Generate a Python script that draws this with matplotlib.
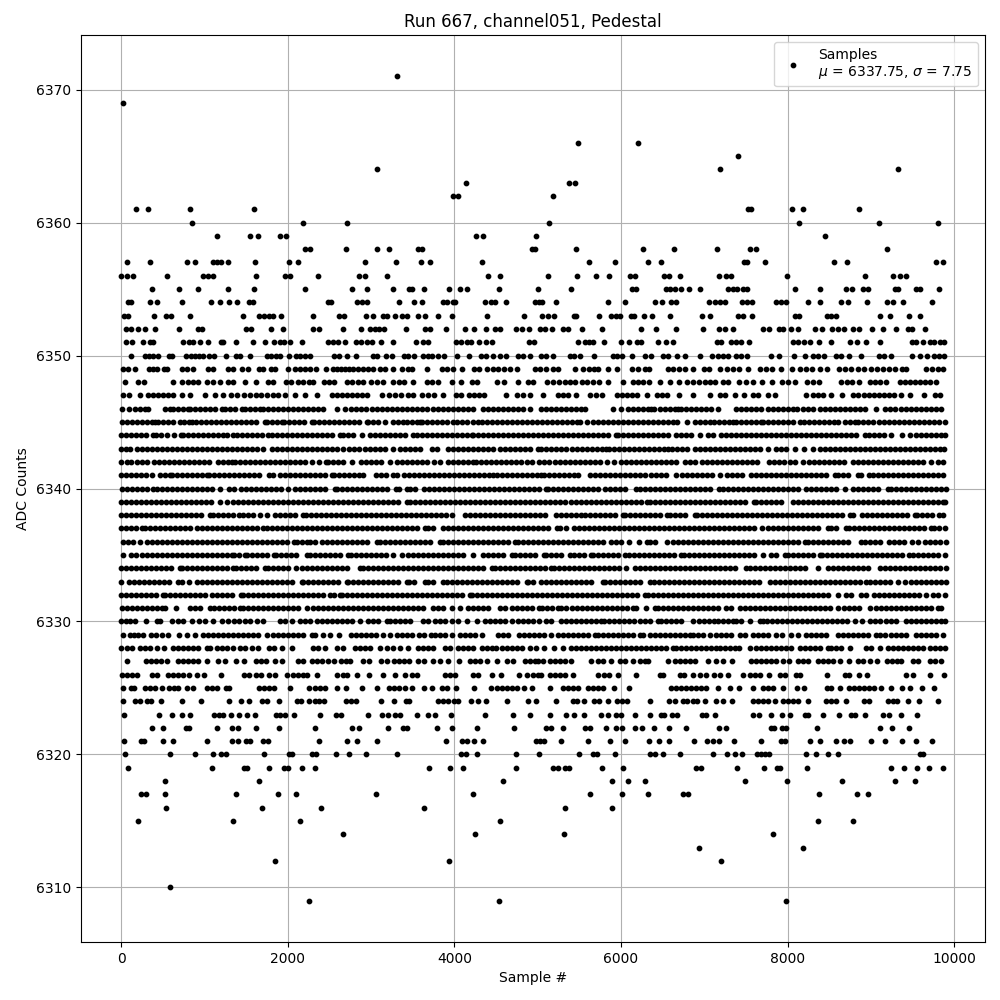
import matplotlib
matplotlib.use('Agg')
import matplotlib.pyplot as plt

# sample numbers, one list per ADC level
adc_6371 = [3312]
adc_6369 = [24]
adc_6366 = [5484, 6204]
adc_6365 = [7404]
adc_6364 = [3072, 7188, 9324]
adc_6363 = [4140, 5376, 5448]
adc_6362 = [3984, 4044, 5184]
adc_6361 = [176, 328, 832, 1600, 7524, 7560, 8052, 8184, 8856]
adc_6360 = [856, 2188, 2716, 5136, 8136, 9096, 9808]
adc_6359 = [1156, 1552, 1648, 1912, 1984, 4264, 4348, 4984, 8448]
adc_6358 = [2208, 2268, 2704, 3076, 3220, 3568, 3616, 4928, 4968, 5460, 6264, 6636, 7152, 7548, 7624, 9192]
adc_6357 = [76, 352, 796, 892, 1108, 1156, 1196, 1288, 1612, 2020, 2128, 2932, 3304, 3596, 3712, 4336, 5616, 5928, 6324, 6480, 7472, 7512, 7728, 8556, 8712, 9780, 9868]
adc_6356 = [4, 76, 148, 556, 988, 1048, 1108, 1624, 1964, 2028, 2368, 2860, 2928, 3196, 4408, 4552, 5124, 5472, 5700, 5856, 6108, 6168, 6516, 6576, 6708, 7176, 7260, 7320, 7992, 8928, 9264, 9348, 9420]
adc_6355 = [376, 700, 928, 1288, 1600, 2212, 2776, 2956, 3268, 3460, 3496, 3640, 3932, 4072, 4156, 4540, 5004, 5400, 6128, 6176, 6540, 6584, 6648, 6720, 6816, 6948, 7284, 7344, 7392, 7464, 7512, 8084, 8388, 8700, 8772, 8904, 8964, 9288, 9328, 9544, 9584, 9816]
adc_6354 = [88, 120, 352, 436, 736, 1084, 1192, 1300, 1396, 1540, 1588, 2488, 2516, 2836, 2896, 2956, 3340, 3520, 3616, 3868, 3916, 3988, 4012, 4372, 4436, 4484, 4624, 4968, 5016, 5052, 5220, 5844, 6048, 6408, 6492, 6600, 6660, 7056, 7128, 7188, 7244, 7452, 7512, 7572, 7860, 7920, 7984, 8244, 8388, 8640, 8724, 8952, 9192, 9264, 9384, 9732]
adc_6353 = [36, 88, 400, 544, 604, 832, 1468, 1660, 1720, 1780, 1828, 1924, 2308, 2620, 2676, 2944, 3028, 3140, 3188, 3292, 3376, 3436, 3568, 3652, 3808, 3976, 4396, 4840, 5052, 5124, 5196, 5436, 5464, 5736, 5880, 5940, 5988, 6120, 6156, 6276, 6372, 6588, 6972, 7068, 7404, 7464, 7572, 8088, 8136, 8472, 8520, 8580, 9108, 9228, 9456, 9584]
adc_6352 = [64, 124, 208, 292, 412, 700, 928, 976, 1504, 1556, 1804, 1948, 2308, 2380, 2668, 2884, 2992, 3052, 3100, 3160, 3424, 3652, 3712, 3904, 4132, 4240, 4384, 4492, 4552, 4744, 4816, 4900, 5024, 5084, 5168, 5304, 5364, 5532, 5772, 6240, 6424, 6660, 6984, 7180, 7248, 7344, 7704, 7776, 7896, 7944, 8040, 8124, 8328, 8412, 8532, 8604, 8676, 8784, 8856, 9012, 9144, 9300, 9444, 9492, 9648]
adc_6351 = [64, 136, 268, 352, 388, 748, 820, 868, 952, 1048, 1204, 1228, 1384, 1588, 1732, 1840, 1912, 1960, 2032, 2176, 2488, 2548, 2608, 2692, 2824, 2884, 2956, 3016, 3124, 3268, 3544, 3628, 3688, 4024, 4084, 4156, 4204, 4300, 4384, 4456, 4900, 4956, 5484, 5568, 5616, 5664, 5796, 6000, 6096, 6192, 6240, 6444, 6540, 6624, 7152, 7200, 7320, 7380, 7440, 7536, 8064, 8124, 8196, 8268, 8376, 8520, 8748, 8832, 8940, 9108, 9492, 9540, 9624, 9708, 9756, 9828, 9876]
adc_6350 = [124, 292, 340, 388, 448, 580, 616, 784, 844, 892, 940, 988, 1060, 1120, 1264, 1384, 1432, 1552, 1756, 1804, 1864, 1912, 2020, 2104, 2152, 2212, 2272, 2560, 2620, 2716, 2824, 3028, 3076, 3184, 3256, 3400, 3448, 3520, 3628, 3688, 3736, 3808, 3880, 4036, 4180, 4324, 4384, 4468, 4552, 4624, 4768, 4828, 4904, 5044, 5104, 5184, 5388, 5436, 5508, 5676, 5904, 5952, 6012, 6132, 6288, 6360, 6504, 6564, 6672, 6768, 6948, 7092, 7164, 7224, 7284, 7380, 7440, 7512, 7800, 7896, 8076, 8208, 8304, 8364, 8436, 8580, 8640, 8736, 8880, 9096, 9156, 9240, 9492, 9588, 9672, 9756, 9816, 9876]
adc_6349 = [28, 88, 168, 340, 388, 436, 520, 556, 728, 788, 868, 1048, 1108, 1288, 1348, 1456, 1528, 1660, 1708, 1804, 1852, 2008, 2092, 2148, 2208, 2268, 2336, 2464, 2548, 2596, 2644, 2692, 2740, 2788, 2848, 2908, 2968, 3028, 3108, 3168, 3268, 3368, 3448, 3496, 3668, 3848, 3908, 3988, 4096, 4240, 4300, 4396, 4468, 4528, 4600, 4668, 4748, 4964, 5024, 5096, 5184, 5244, 5448, 5544, 5616, 5676, 5724, 5844, 5952, 6132, 6204, 6284, 6336, 6564, 6624, 6696, 6768, 6864, 6996, 7056, 7188, 7272, 7344, 7416, 7524, 7668, 7740, 7812, 7920, 8052, 8148, 8220, 8292, 8388, 8472, 8616, 8688, 8760, 8844, 8916, 9000, 9072, 9144, 9216, 9288, 9372, 9420, 9660, 9732, 9804, 9864]
adc_6348 = [52, 208, 280, 628, 736, 808, 868, 928, 1036, 1108, 1188, 1288, 1348, 1492, 1624, 1768, 1828, 1984, 2044, 2128, 2188, 2260, 2308, 2440, 2500, 2560, 2716, 2776, 2848, 2908, 3004, 3076, 3148, 3268, 3340, 3400, 3508, 3676, 3736, 3808, 3976, 4084, 4216, 4276, 4508, 4600, 4768, 4888, 4944, 5112, 5184, 5256, 5328, 5388, 5448, 5532, 5592, 5664, 5736, 5844, 6024, 6144, 6204, 6264, 6336, 6468, 6588, 6696, 6792, 6864, 6936, 7008, 7068, 7128, 7224, 7284, 7416, 7500, 7584, 7692, 7812, 7932, 8004, 8088, 8232, 8304, 8376, 8640, 8712, 8772, 8856, 8988, 9048, 9108, 9180, 9348, 9408, 9468, 9528, 9588, 9648, 9708, 9780]
adc_6347 = [28, 100, 232, 328, 388, 448, 508, 568, 628, 728, 828, 1008, 1132, 1228, 1324, 1396, 1480, 1548, 1620, 1684, 1756, 1828, 1888, 1968, 2088, 2208, 2348, 2536, 2596, 2656, 2716, 2776, 2836, 2896, 2956, 3136, 3220, 3292, 3364, 3448, 3500, 3616, 3688, 3760, 3868, 4024, 4084, 4180, 4240, 4300, 4360, 4624, 4756, 4828, 4904, 5064, 5244, 5304, 5364, 5460, 5628, 5700, 5772, 5952, 6012, 6072, 6132, 6192, 6312, 6432, 6492, 6552, 6696, 6864, 7068, 7188, 7248, 7368, 7476, 7584, 7644, 7764, 7848, 8220, 8304, 8364, 8424, 8516, 8656, 8784, 8844, 8916, 8976, 9036, 9096, 9156, 9216, 9276, 9360, 9468, 9636, 9768, 9828]
adc_6346 = [8, 100, 168, 228, 288, 328, 528, 588, 628, 688, 748, 808, 828, 888, 948, 1008, 1068, 1128, 1208, 1248, 1308, 1368, 1448, 1488, 1548, 1608, 1668, 1708, 1768, 1828, 1888, 1948, 2008, 2068, 2128, 2188, 2248, 2308, 2368, 2428, 2588, 2688, 2756, 2816, 2876, 2936, 3008, 3068, 3128, 3196, 3256, 3316, 3376, 3436, 3496, 3556, 3616, 3676, 3740, 3808, 3868, 3928, 3988, 4048, 4108, 4168, 4228, 4348, 4408, 4468, 4528, 4588, 4648, 4708, 4768, 4828, 4908, 5044, 5104, 5164, 5224, 5284, 5344, 5404, 5464, 5524, 5564, 5904, 6004, 6084, 6144, 6204, 6264, 6324, 6364, 6392, 6464, 6524, 6584, 6644, 6684, 6724, 6784, 6844, 6904, 6964, 7024, 7084, 7164, 7384, 7444, 7504, 7564, 7624, 7684, 7764, 7824, 7884, 7944, 8004, 8064, 8112, 8184, 8244, 8304, 8384, 8444, 8504, 8564, 8624, 8684, 8744, 8804, 8864, 8924, 9064, 9164, 9224, 9284, 9364, 9424, 9484, 9544, 9604, 9664, 9724, 9784, 9844]
adc_6345 = [8, 68, 128, 188, 248, 308, 368, 408, 448, 508, 568, 628, 708, 756, 816, 848, 900, 960, 1020, 1080, 1140, 1200, 1260, 1320, 1380, 1440, 1500, 1560, 1620, 1728, 1756, 1816, 1876, 1928, 1956, 2016, 2076, 2136, 2196, 2288, 2316, 2376, 2436, 2496, 2556, 2616, 2676, 2736, 2796, 2856, 2948, 2968, 3028, 3088, 3168, 3260, 3320, 3380, 3436, 3488, 3548, 3588, 3616, 3676, 3736, 3796, 3856, 3916, 3988, 4028, 4088, 4148, 4228, 4288, 4328, 4388, 4448, 4508, 4568, 4628, 4688, 4748, 4808, 4868, 4928, 4988, 5048, 5108, 5168, 5228, 5296, 5352, 5412, 5476, 5512, 5592, 5664, 5724, 5784, 5844, 5904, 5964, 6024, 6084, 6144, 6204, 6264, 6324, 6384, 6444, 6504, 6564, 6624, 6672, 6792, 6892, 6952, 7012, 7072, 7116, 7176, 7236, 7296, 7344, 7384, 7444, 7504, 7564, 7624, 7684, 7704, 7764, 7824, 7884, 7944, 8004, 8064, 8152, 8192, 8252, 8312, 8372, 8432, 8492, 8552, 8604, 8684, 8744, 8804, 8844, 8904, 8964, 9024, 9096, 9156, 9216, 9276, 9336, 9396, 9456, 9516, 9576, 9636, 9696, 9756, 9816, 9884]
adc_6344 = [0, 60, 120, 180, 240, 300, 388, 416, 476, 548, 640, 720, 748, 808, 868, 928, 988, 1048, 1108, 1168, 1228, 1276, 1348, 1396, 1456, 1516, 1576, 1636, 1696, 1768, 1808, 1868, 1928, 1988, 2048, 2108, 2168, 2228, 2288, 2348, 2408, 2468, 2528, 2628, 2660, 2720, 2780, 2888, 2988, 3048, 3108, 3168, 3228, 3288, 3348, 3408, 3508, 3548, 3608, 3668, 3728, 3788, 3848, 3908, 3968, 4028, 4088, 4148, 4208, 4228, 4288, 4348, 4408, 4468, 4528, 4588, 4648, 4708, 4768, 4828, 4888, 4948, 5008, 5068, 5128, 5188, 5248, 5308, 5368, 5428, 5488, 5548, 5608, 5668, 5728, 5788, 5848, 5936, 5964, 6024, 6084, 6144, 6204, 6264, 6324, 6384, 6444, 6504, 6564, 6664, 6724, 6784, 6844, 6952, 7044, 7104, 7204, 7264, 7324, 7384, 7444, 7504, 7564, 7624, 7684, 7744, 7804, 7864, 7924, 7984, 8044, 8104, 8164, 8224, 8284, 8344, 8404, 8464, 8524, 8584, 8644, 8704, 8764, 8824, 8924, 8976, 9036, 9096, 9156, 9244, 9372, 9464, 9536, 9596, 9656, 9716, 9776, 9836, 9884]
adc_6343 = [0, 60, 108, 188, 248, 308, 368, 428, 488, 548, 608, 668, 728, 788, 848, 908, 968, 1028, 1088, 1148, 1208, 1268, 1328, 1388, 1448, 1508, 1568, 1628, 1708, 1816, 1876, 1936, 1996, 2056, 2116, 2176, 2236, 2296, 2356, 2416, 2476, 2536, 2588, 2668, 2740, 2800, 2860, 2928, 2988, 3048, 3108, 3168, 3268, 3348, 3408, 3468, 3528, 3588, 3728, 3796, 3928, 3988, 4048, 4108, 4168, 4228, 4288, 4348, 4408, 4468, 4548, 4608, 4668, 4728, 4788, 4848, 4904, 5004, 5044, 5104, 5164, 5224, 5284, 5344, 5412, 5472, 5532, 5592, 5652, 5712, 5772, 5816, 5856, 5916, 5976, 6036, 6096, 6156, 6216, 6276, 6336, 6396, 6456, 6516, 6564, 6612, 6672, 6732, 6792, 6892, 6944, 7004, 7064, 7124, 7184, 7244, 7304, 7364, 7424, 7484, 7544, 7604, 7664, 7764, 7864, 7924, 7984, 8084, 8196, 8304, 8392, 8452, 8512, 8572, 8632, 8692, 8752, 8812, 8872, 8932, 8992, 9052, 9112, 9172, 9232, 9292, 9352, 9412, 9472, 9532, 9592, 9652, 9712, 9772, 9832, 9880]
adc_6342 = [0, 68, 116, 188, 248, 316, 396, 456, 516, 576, 636, 696, 756, 816, 876, 936, 996, 1056, 1160, 1228, 1288, 1328, 1368, 1428, 1488, 1548, 1608, 1668, 1728, 1788, 1848, 1908, 1968, 2028, 2088, 2148, 2208, 2288, 2380, 2460, 2488, 2548, 2608, 2668, 2768, 2876, 2936, 2996, 3056, 3116, 3228, 3308, 3368, 3428, 3488, 3548, 3608, 3668, 3756, 3828, 3928, 3988, 4048, 4108, 4168, 4228, 4260, 4320, 4380, 4440, 4500, 4560, 4620, 4680, 4740, 4800, 4868, 4928, 5020, 5080, 5140, 5204, 5272, 5332, 5392, 5452, 5512, 5572, 5632, 5692, 5752, 5832, 5912, 5996, 6064, 6124, 6184, 6244, 6304, 6364, 6424, 6484, 6544, 6604, 6664, 6764, 6824, 6884, 6976, 7032, 7092, 7152, 7212, 7272, 7332, 7392, 7452, 7512, 7572, 7636, 7776, 7836, 7896, 7956, 8024, 8084, 8184, 8256, 8316, 8376, 8436, 8496, 8556, 8616, 8676, 8784, 8844, 8904, 8964, 9024, 9084, 9144, 9204, 9264, 9324, 9384, 9444, 9504, 9564, 9624, 9724, 9804, 9864]
adc_6341 = [0, 60, 120, 180, 240, 300, 368, 468, 528, 588, 616, 676, 736, 796, 856, 916, 976, 1028, 1056, 1116, 1176, 1236, 1296, 1356, 1416, 1476, 1536, 1596, 1660, 1780, 1820, 1908, 1968, 2028, 2088, 2148, 2208, 2268, 2328, 2388, 2448, 2528, 2556, 2616, 2676, 2736, 2796, 2856, 2908, 3056, 3116, 3176, 3268, 3316, 3396, 3456, 3516, 3576, 3636, 3696, 3756, 3816, 3876, 3936, 3996, 4056, 4116, 4176, 4236, 4296, 4356, 4416, 4468, 4508, 4568, 4628, 4688, 4748, 4808, 4868, 4928, 4988, 5044, 5072, 5132, 5192, 5252, 5312, 5372, 5432, 5484, 5632, 5692, 5752, 5812, 5872, 5932, 5992, 6052, 6112, 6172, 6232, 6284, 6364, 6424, 6484, 6544, 6656, 6736, 6796, 6856, 6916, 6976, 7036, 7096, 7184, 7272, 7332, 7392, 7452, 7564, 7624, 7684, 7744, 7804, 7864, 7924, 7984, 8044, 8104, 8164, 8224, 8284, 8344, 8404, 8464, 8564, 8604, 8664, 8724, 8844, 8884, 8976, 9024, 9084, 9144, 9204, 9264, 9324, 9384, 9444, 9504, 9564, 9624, 9684, 9744, 9804, 9864]
adc_6340 = [8, 68, 128, 188, 248, 308, 388, 428, 488, 548, 608, 668, 728, 788, 848, 908, 968, 1028, 1088, 1188, 1300, 1360, 1436, 1500, 1560, 1620, 1680, 1740, 1800, 1860, 1920, 2008, 2088, 2148, 2208, 2268, 2328, 2388, 2448, 2568, 2596, 2656, 2716, 2776, 2836, 2896, 2956, 3016, 3076, 3136, 3196, 3300, 3332, 3428, 3468, 3528, 3636, 3700, 3760, 3820, 3880, 3940, 4000, 4060, 4120, 4180, 4240, 4300, 4360, 4420, 4480, 4540, 4600, 4660, 4720, 4780, 4840, 4900, 4960, 5020, 5096, 5124, 5184, 5244, 5304, 5364, 5424, 5484, 5544, 5604, 5664, 5724, 5804, 5872, 5932, 5992, 6052, 6184, 6224, 6284, 6344, 6404, 6464, 6524, 6584, 6644, 6704, 6764, 6824, 6884, 6944, 7004, 7064, 7176, 7224, 7284, 7344, 7404, 7464, 7524, 7584, 7644, 7704, 7764, 7824, 7884, 7944, 8004, 8064, 8124, 8224, 8284, 8344, 8404, 8464, 8524, 8584, 8684, 8784, 8844, 8904, 8964, 9024, 9084, 9204, 9244, 9304, 9364, 9424, 9484, 9544, 9604, 9664, 9724, 9784, 9844, 9896]
adc_6339 = [0, 60, 120, 180, 240, 300, 360, 420, 480, 540, 600, 660, 720, 780, 840, 900, 960, 1020, 1080, 1188, 1268, 1340, 1400, 1460, 1520, 1580, 1640, 1700, 1760, 1820, 1880, 1940, 2000, 2060, 2120, 2180, 2240, 2300, 2360, 2420, 2480, 2540, 2600, 2660, 2720, 2780, 2840, 2900, 2960, 3020, 3080, 3140, 3200, 3260, 3320, 3428, 3468, 3528, 3588, 3648, 3708, 3768, 3828, 3888, 3948, 4008, 4068, 4128, 4188, 4248, 4308, 4368, 4428, 4488, 4548, 4608, 4668, 4728, 4788, 4848, 4908, 4968, 5028, 5088, 5148, 5208, 5268, 5328, 5404, 5464, 5524, 5584, 5644, 5704, 5764, 5824, 5884, 5944, 6004, 6064, 6124, 6184, 6244, 6312, 6352, 6412, 6472, 6532, 6592, 6652, 6712, 6772, 6832, 6892, 6952, 7012, 7072, 7132, 7192, 7252, 7312, 7372, 7432, 7492, 7592, 7624, 7684, 7744, 7804, 7864, 7924, 8064, 8124, 8184, 8244, 8304, 8364, 8424, 8484, 8544, 8604, 8664, 8724, 8784, 8844, 8904, 8964, 9024, 9084, 9144, 9204, 9264, 9324, 9384, 9444, 9504, 9564, 9624, 9684, 9744, 9804, 9864, 9888]
adc_6338 = [0, 60, 120, 180, 240, 300, 360, 420, 480, 540, 600, 660, 720, 780, 840, 900, 960, 1068, 1100, 1160, 1220, 1280, 1340, 1420, 1468, 1528, 1588, 1668, 1756, 1848, 1908, 1968, 2028, 2088, 2188, 2216, 2276, 2336, 2396, 2456, 2516, 2576, 2636, 2696, 2756, 2816, 2876, 2936, 2996, 3056, 3116, 3176, 3236, 3296, 3356, 3416, 3476, 3536, 3596, 3656, 3716, 3776, 3836, 3896, 3968, 4128, 4188, 4248, 4308, 4368, 4428, 4488, 4548, 4608, 4668, 4728, 4788, 4848, 4908, 4968, 5028, 5084, 5224, 5284, 5344, 5404, 5464, 5524, 5564, 5624, 5684, 5744, 5804, 5864, 5924, 6024, 6052, 6112, 6172, 6232, 6292, 6352, 6412, 6472, 6552, 6584, 6644, 6704, 6764, 6884, 6916, 6976, 7036, 7096, 7156, 7216, 7276, 7336, 7396, 7456, 7516, 7576, 7636, 7696, 7756, 7816, 7876, 7936, 7996, 8056, 8116, 8176, 8236, 8296, 8356, 8416, 8476, 8536, 8596, 8656, 8744, 8784, 8896, 8956, 9016, 9076, 9136, 9196, 9256, 9316, 9376, 9436, 9524, 9552, 9612, 9672, 9732, 9816, 9864]
adc_6337 = [0, 60, 120, 180, 256, 288, 348, 408, 468, 528, 588, 648, 708, 768, 828, 916, 976, 1036, 1096, 1156, 1216, 1276, 1336, 1396, 1456, 1516, 1576, 1636, 1708, 1756, 1816, 1876, 1936, 1996, 2056, 2116, 2176, 2236, 2296, 2356, 2416, 2476, 2536, 2596, 2656, 2716, 2776, 2836, 2896, 2956, 3016, 3076, 3136, 3196, 3256, 3316, 3376, 3436, 3496, 3556, 3648, 3688, 3748, 3868, 3928, 3988, 4048, 4108, 4168, 4228, 4288, 4348, 4408, 4468, 4528, 4588, 4648, 4708, 4768, 4828, 4888, 4948, 5008, 5068, 5128, 5232, 5264, 5336, 5432, 5492, 5552, 5612, 5672, 5732, 5792, 5852, 5912, 5972, 6032, 6092, 6152, 6212, 6272, 6332, 6392, 6452, 6512, 6572, 6632, 6692, 6752, 6812, 6872, 6932, 6992, 7052, 7112, 7172, 7232, 7292, 7352, 7412, 7472, 7532, 7592, 7696, 7768, 7828, 7888, 7948, 8008, 8068, 8128, 8188, 8248, 8308, 8368, 8484, 8524, 8584, 8704, 8736, 8796, 8856, 8916, 8976, 9036, 9096, 9156, 9216, 9276, 9336, 9396, 9456, 9516, 9576, 9636, 9724, 9752, 9812, 9884]
adc_6336 = [28, 88, 148, 228, 316, 376, 436, 496, 556, 616, 676, 736, 796, 856, 916, 976, 1036, 1096, 1156, 1216, 1276, 1336, 1396, 1456, 1516, 1576, 1636, 1696, 1756, 1816, 1876, 1936, 1996, 2076, 2108, 2168, 2228, 2268, 2328, 2412, 2468, 2528, 2588, 2648, 2708, 2768, 2828, 2888, 2948, 3068, 3108, 3168, 3228, 3288, 3348, 3408, 3468, 3528, 3588, 3648, 3708, 3828, 3868, 3928, 3988, 4048, 4108, 4168, 4228, 4288, 4348, 4408, 4468, 4528, 4588, 4648, 4728, 4768, 4828, 4888, 4948, 5008, 5068, 5128, 5188, 5248, 5308, 5368, 5428, 5488, 5548, 5608, 5668, 5728, 5788, 5884, 5944, 6004, 6096, 6216, 6312, 6352, 6412, 6552, 6624, 6684, 6744, 6804, 6864, 6924, 6984, 7044, 7104, 7164, 7224, 7284, 7344, 7404, 7464, 7524, 7584, 7644, 7704, 7764, 7824, 7884, 7944, 8004, 8064, 8124, 8204, 8244, 8304, 8364, 8424, 8484, 8544, 8604, 8664, 8724, 8884, 8924, 8984, 9044, 9104, 9216, 9272, 9332, 9392, 9496, 9564, 9644, 9704, 9764, 9824, 9896]
adc_6335 = [20, 120, 180, 248, 308, 368, 428, 488, 548, 608, 668, 728, 788, 848, 908, 968, 1028, 1088, 1148, 1208, 1268, 1328, 1356, 1416, 1488, 1508, 1568, 1628, 1688, 1748, 1836, 1860, 1920, 1980, 2040, 2100, 2228, 2268, 2328, 2388, 2448, 2508, 2568, 2628, 2728, 2756, 2816, 2876, 2936, 2996, 3056, 3116, 3176, 3260, 3368, 3448, 3508, 3568, 3628, 3688, 3748, 3808, 3868, 3928, 3988, 4048, 4108, 4228, 4340, 4400, 4460, 4520, 4580, 4688, 4728, 4788, 4848, 4908, 4968, 5072, 5104, 5164, 5224, 5284, 5392, 5436, 5496, 5556, 5644, 5664, 5724, 5784, 5844, 5904, 5964, 6044, 6096, 6156, 6216, 6276, 6336, 6396, 6456, 6516, 6576, 6636, 6724, 6752, 6812, 6872, 6932, 6992, 7052, 7112, 7172, 7232, 7292, 7352, 7412, 7472, 7532, 7592, 7704, 7800, 7860, 7964, 8004, 8064, 8124, 8184, 8244, 8304, 8384, 8416, 8476, 8536, 8596, 8656, 8716, 8776, 8836, 8896, 8956, 9016, 9076, 9136, 9196, 9256, 9316, 9376, 9456, 9504, 9564, 9624, 9684, 9744, 9804, 9884]
adc_6334 = [0, 60, 120, 180, 240, 300, 360, 420, 480, 540, 600, 708, 736, 796, 856, 916, 976, 1036, 1096, 1156, 1216, 1276, 1348, 1380, 1440, 1500, 1560, 1620, 1728, 1768, 1828, 1888, 1948, 2008, 2100, 2168, 2228, 2288, 2348, 2408, 2468, 2528, 2588, 2648, 2708, 2868, 2908, 2968, 3028, 3088, 3148, 3208, 3268, 3328, 3388, 3448, 3508, 3568, 3628, 3688, 3748, 3808, 3868, 3928, 3988, 4048, 4108, 4168, 4228, 4288, 4348, 4448, 4488, 4548, 4608, 4668, 4728, 4788, 4848, 4908, 4968, 5028, 5088, 5164, 5192, 5252, 5312, 5372, 5432, 5492, 5552, 5612, 5672, 5732, 5792, 5852, 5912, 5972, 6056, 6164, 6224, 6284, 6344, 6404, 6464, 6524, 6584, 6644, 6704, 6764, 6824, 6884, 6944, 7004, 7064, 7124, 7184, 7244, 7304, 7364, 7504, 7544, 7604, 7664, 7724, 7784, 7844, 7904, 7964, 8024, 8084, 8144, 8204, 8364, 8484, 8544, 8604, 8664, 8724, 8784, 8844, 8904, 8964, 9104, 9164, 9224, 9284, 9344, 9404, 9464, 9524, 9584, 9644, 9704, 9764, 9824, 9896]
adc_6333 = [0, 100, 160, 220, 280, 340, 400, 460, 520, 580, 688, 728, 820, 916, 976, 1036, 1096, 1156, 1216, 1276, 1336, 1396, 1456, 1516, 1576, 1636, 1696, 1756, 1816, 1876, 1936, 1996, 2056, 2168, 2188, 2248, 2308, 2368, 2428, 2488, 2548, 2608, 2708, 2728, 2788, 2848, 2908, 2968, 3028, 3088, 3148, 3208, 3268, 3328, 3428, 3460, 3520, 3648, 3688, 3748, 3868, 3916, 3976, 4036, 4096, 4156, 4216, 4276, 4336, 4396, 4456, 4516, 4576, 4636, 4696, 4756, 4868, 4888, 4948, 5044, 5104, 5164, 5224, 5284, 5344, 5404, 5464, 5524, 5584, 5644, 5784, 5804, 5864, 5924, 5984, 6044, 6104, 6164, 6224, 6352, 6392, 6452, 6512, 6572, 6632, 6692, 6752, 6812, 6872, 6932, 6992, 7052, 7112, 7172, 7232, 7292, 7352, 7412, 7472, 7532, 7592, 7652, 7792, 7852, 7912, 7972, 8032, 8092, 8152, 8212, 8272, 8332, 8392, 8452, 8512, 8572, 8632, 8692, 8752, 8812, 8872, 8944, 8984, 9044, 9104, 9164, 9224, 9324, 9404, 9484, 9544, 9604, 9664, 9724, 9784, 9844, 9896]
adc_6332 = [0, 60, 120, 180, 240, 300, 360, 420, 500, 528, 588, 648, 708, 768, 828, 888, 948, 1008, 1088, 1148, 1208, 1268, 1328, 1436, 1468, 1528, 1588, 1648, 1708, 1768, 1828, 1888, 1948, 2008, 2068, 2128, 2188, 2248, 2308, 2368, 2428, 2508, 2556, 2628, 2656, 2716, 2776, 2836, 2896, 2956, 3016, 3076, 3136, 3196, 3256, 3316, 3376, 3436, 3496, 3556, 3616, 3676, 3736, 3796, 3856, 3916, 3976, 4036, 4096, 4188, 4208, 4268, 4328, 4388, 4448, 4508, 4568, 4628, 4688, 4748, 4808, 4868, 4928, 4988, 5048, 5108, 5168, 5228, 5288, 5348, 5408, 5468, 5528, 5588, 5648, 5708, 5768, 5828, 5888, 5948, 6008, 6068, 6128, 6188, 6284, 6324, 6384, 6444, 6504, 6564, 6624, 6684, 6744, 6804, 6864, 6924, 6984, 7044, 7104, 7164, 7224, 7284, 7344, 7404, 7464, 7524, 7584, 7644, 7704, 7764, 7824, 7884, 7944, 8004, 8064, 8124, 8184, 8244, 8304, 8364, 8424, 8484, 8604, 8704, 8764, 8884, 8944, 9032, 9096, 9156, 9216, 9276, 9336, 9396, 9456, 9516, 9576, 9664, 9744, 9804, 9884]
adc_6331 = [8, 68, 128, 188, 248, 308, 368, 428, 488, 528, 660, 828, 888, 948, 1068, 1116, 1176, 1236, 1296, 1356, 1428, 1460, 1520, 1580, 1640, 1700, 1760, 1820, 1880, 1940, 2000, 2060, 2120, 2228, 2300, 2360, 2420, 2480, 2540, 2600, 2660, 2720, 2780, 2840, 2900, 2960, 3020, 3080, 3140, 3200, 3260, 3320, 3380, 3440, 3500, 3560, 3620, 3740, 3808, 3868, 3968, 4068, 4168, 4228, 4288, 4348, 4408, 4548, 4608, 4688, 4748, 4808, 4868, 4928, 5020, 5056, 5116, 5176, 5244, 5284, 5344, 5416, 5472, 5532, 5592, 5652, 5712, 5772, 5832, 5892, 5952, 6012, 6072, 6144, 6176, 6304, 6404, 6444, 6504, 6564, 6624, 6684, 6744, 6804, 6864, 6924, 6984, 7044, 7104, 7164, 7256, 7316, 7424, 7484, 7544, 7604, 7664, 7724, 7784, 7844, 7904, 7964, 8024, 8084, 8144, 8204, 8264, 8324, 8384, 8444, 8504, 8604, 8672, 8732, 8792, 8852, 8984, 9064, 9124, 9184, 9244, 9304, 9364, 9424, 9484, 9544, 9604, 9664, 9724, 9804, 9836]
adc_6330 = [0, 60, 108, 168, 296, 428, 468, 616, 688, 748, 848, 940, 1008, 1108, 1208, 1288, 1356, 1420, 1488, 1548, 1636, 1708, 1908, 1968, 2048, 2148, 2208, 2268, 2348, 2408, 2468, 2528, 2588, 2648, 2708, 2768, 2868, 2968, 3028, 3088, 3188, 3228, 3288, 3348, 3408, 3468, 3628, 3688, 3768, 3828, 3888, 3968, 4048, 4148, 4268, 4368, 4428, 4488, 4548, 4608, 4688, 4768, 4828, 4888, 4948, 5020, 5096, 5164, 5284, 5344, 5404, 5464, 5524, 5584, 5644, 5704, 5764, 5792, 5852, 5912, 5972, 6032, 6092, 6152, 6232, 6284, 6344, 6444, 6484, 6544, 6604, 6664, 6724, 6864, 6932, 6992, 7052, 7112, 7164, 7224, 7284, 7344, 7384, 7444, 7544, 7664, 7704, 7752, 7812, 7872, 7932, 7992, 8052, 8112, 8172, 8232, 8292, 8352, 8412, 8472, 8532, 8592, 8652, 8712, 8804, 8896, 8984, 9044, 9104, 9184, 9244, 9304, 9424, 9484, 9544, 9604, 9664, 9724, 9784, 9844, 9888]
adc_6329 = [20, 108, 156, 208, 268, 356, 416, 488, 568, 696, 788, 892, 988, 1048, 1108, 1168, 1228, 1288, 1348, 1408, 1468, 1528, 1588, 1648, 1748, 1828, 1888, 1948, 2008, 2068, 2128, 2188, 2288, 2332, 2428, 2508, 2620, 2756, 2816, 2876, 2936, 2996, 3056, 3148, 3228, 3308, 3368, 3428, 3488, 3580, 3640, 3716, 3768, 3828, 3888, 3968, 4068, 4128, 4188, 4248, 4328, 4528, 4588, 4648, 4780, 4840, 4900, 4960, 5020, 5080, 5164, 5244, 5304, 5364, 5424, 5484, 5544, 5604, 5684, 5724, 5784, 5844, 5904, 5964, 6024, 6084, 6144, 6224, 6264, 6344, 6404, 6464, 6524, 6584, 6644, 6704, 6764, 6824, 6864, 6924, 6984, 7064, 7144, 7204, 7264, 7324, 7424, 7484, 7584, 7644, 7704, 7764, 7864, 7932, 8044, 8124, 8224, 8284, 8344, 8404, 8464, 8604, 8664, 8724, 8784, 8844, 8904, 8964, 9064, 9104, 9164, 9244, 9304, 9364, 9424, 9544, 9604, 9664, 9724, 9784, 9864]
adc_6328 = [0, 68, 128, 228, 288, 348, 436, 520, 628, 688, 748, 808, 868, 928, 1028, 1068, 1148, 1208, 1268, 1348, 1428, 1488, 1568, 1648, 1780, 1840, 1928, 2048, 2308, 2368, 2448, 2588, 2668, 2808, 2868, 2928, 2988, 3108, 3188, 3268, 3348, 3448, 3568, 3628, 3688, 3748, 3888, 3948, 4048, 4108, 4168, 4228, 4328, 4388, 4448, 4496, 4568, 4628, 4688, 4748, 4808, 4908, 4976, 5072, 5192, 5304, 5404, 5464, 5524, 5584, 5644, 5704, 5764, 5824, 5884, 5944, 6004, 6064, 6124, 6184, 6244, 6304, 6364, 6424, 6484, 6544, 6624, 6664, 6724, 6784, 6844, 6904, 6964, 7024, 7084, 7144, 7184, 7244, 7304, 7364, 7416, 7544, 7624, 7684, 7744, 7804, 7864, 7924, 7984, 8044, 8144, 8204, 8264, 8324, 8384, 8484, 8524, 8584, 8644, 8744, 8944, 9004, 9104, 9204, 9264, 9324, 9384, 9444, 9504, 9564, 9624, 9704, 9764, 9824, 9884]
adc_6327 = [76, 300, 360, 420, 480, 548, 688, 748, 808, 868, 928, 1036, 1168, 1248, 1380, 1476, 1620, 1680, 1740, 1848, 1936, 2128, 2188, 2288, 2356, 2416, 2488, 2556, 2636, 2696, 2748, 2908, 2980, 3116, 3188, 3276, 3336, 3396, 3456, 3568, 3640, 3748, 3832, 3928, 4060, 4188, 4248, 4308, 4388, 4508, 4628, 4708, 4848, 4908, 4964, 5004, 5064, 5144, 5204, 5264, 5324, 5404, 5644, 5724, 5784, 5884, 5992, 6044, 6144, 6224, 6284, 6324, 6564, 6644, 6704, 6764, 6824, 6884, 7044, 7144, 7224, 7332, 7564, 7624, 7684, 7744, 7804, 7864, 7944, 8016, 8124, 8184, 8244, 8364, 8424, 8484, 8544, 8624, 8736, 8844, 8904, 8984, 9072, 9192, 9252, 9312, 9364, 9504, 9564, 9704, 9764, 9844]
adc_6326 = [8, 68, 128, 188, 368, 428, 568, 628, 688, 748, 820, 916, 996, 1196, 1480, 1540, 1620, 1684, 1780, 1852, 1988, 2060, 2120, 2180, 2236, 2348, 2588, 2668, 2716, 2836, 2980, 3148, 3292, 3408, 3488, 3556, 3888, 3948, 4008, 4228, 4288, 4448, 4564, 4780, 4876, 4948, 5008, 5044, 5144, 5204, 5264, 5324, 5424, 5724, 5792, 5856, 5964, 6184, 6464, 6504, 6704, 6752, 6864, 6944, 7024, 7112, 7184, 7284, 7464, 7544, 7604, 7664, 7776, 7904, 7964, 8104, 8144, 8472, 8684, 8736, 8852, 8952, 9416, 9504, 9704, 9876]
adc_6325 = [28, 116, 156, 288, 348, 408, 496, 580, 636, 688, 796, 868, 1028, 1088, 1148, 1260, 1300, 1660, 1720, 1780, 1840, 2032, 2256, 2328, 2388, 2448, 2596, 2700, 2896, 3076, 3220, 3280, 3340, 3408, 3496, 3640, 3736, 3856, 3916, 4024, 4240, 4436, 4508, 4568, 4628, 4688, 4756, 4840, 4936, 5144, 5304, 5364, 5424, 5484, 5604, 5664, 5724, 5784, 5916, 6096, 6604, 6664, 6724, 6784, 6844, 6904, 6964, 7024, 7164, 7308, 7416, 7584, 7704, 7764, 7824, 7944, 8112, 8196, 8472, 8516, 8632, 8736, 8796, 8856, 8916, 8976, 9036, 9120, 9240, 9372, 9468, 9612, 9756]
adc_6324 = [28, 172, 232, 316, 364, 484, 736, 964, 1300, 1444, 1540, 1696, 1748, 1900, 2116, 2164, 2260, 2332, 2380, 2440, 2704, 2764, 2824, 3124, 3280, 3424, 3460, 3808, 3868, 3928, 4000, 4048, 4204, 4288, 4384, 4636, 4888, 4984, 5224, 5424, 5472, 5556, 5676, 5736, 5844, 5952, 6012, 6072, 6348, 6576, 6648, 6744, 6792, 6864, 6912, 7008, 7140, 7224, 7332, 7584, 7644, 7704, 7764, 7848, 7944, 8004, 8064, 8124, 8244, 8460, 8524, 8580, 8700, 8916, 8976, 9204, 9264, 9312, 9444, 9576, 9804]
adc_6323 = [40, 460, 616, 736, 832, 1120, 1180, 1220, 1324, 1420, 1516, 1612, 1864, 1912, 1972, 2080, 2392, 2584, 2644, 2968, 3136, 3208, 3292, 3352, 3556, 3688, 3772, 3964, 4372, 4708, 4912, 5148, 5340, 5436, 5556, 5760, 5844, 5940, 6000, 6168, 6348, 6480, 6516, 6612, 6672, 6972, 7020, 7128, 7584, 7656, 7800, 7932, 8028, 8208, 8244, 8428, 8616, 8760, 8808, 8928, 9144, 9216, 9360, 9552]
adc_6322 = [376, 508, 784, 820, 1156, 1336, 1408, 1624, 1900, 2332, 2776, 2860, 3208, 3388, 3436, 3796, 3976, 4276, 4720, 5100, 5160, 5304, 5568, 5628, 5820, 5940, 6012, 6168, 6252, 6396, 6576, 6780, 7176, 7260, 7800, 7836, 7932, 7980, 8352, 9108, 9252, 9456]
adc_6321 = [40, 244, 280, 508, 628, 1036, 1336, 1408, 1504, 1552, 1708, 1768, 2380, 2716, 2836, 3076, 3904, 4096, 4156, 4240, 4348, 4976, 5024, 5076, 5280, 5604, 5868, 6048, 6336, 6456, 6576, 6876, 7032, 7104, 7176, 7356, 7680, 7920, 7968, 8268, 8388, 8580, 8676, 8748, 9000, 9168, 9372, 9540, 9732]
adc_6320 = [52, 592, 892, 1108, 1204, 1264, 1720, 2020, 2056, 2296, 2344, 2584, 2740, 2944, 3316, 4084, 4144, 4276, 4744, 5016, 5496, 5664, 5712, 5928, 6348, 6408, 6504, 6708, 7104, 7272, 7368, 7452, 7632, 7680, 7728, 7776, 8220, 8340, 8484, 8604, 9588, 9624]
adc_6319 = [88, 1096, 1480, 1516, 1780, 1960, 2008, 2176, 2332, 3700, 3952, 4108, 4744, 5184, 5244, 5328, 5376, 5772, 6024, 6900, 6960, 7392, 7716, 7872, 7908, 8232, 9240, 9396, 9552, 9696, 9864]
adc_6318 = [532, 1660, 4588, 5892, 6084, 6288, 7488, 7992, 8652, 9288, 9528]
adc_6317 = [240, 300, 528, 1380, 1884, 2100, 3060, 4224, 5628, 6012, 6324, 6744, 6804, 8376, 8832, 8964]
adc_6316 = [540, 1692, 2400, 3636, 5328, 5892]
adc_6315 = [204, 1344, 2148, 4548, 8364, 8784]
adc_6314 = [2664, 4248, 5316, 7824]
adc_6313 = [6936, 8184]
adc_6312 = [1848, 3936, 7200]
adc_6310 = [588]
adc_6309 = [2256, 4536, 7980]

levels = {6371: adc_6371, 6369: adc_6369, 6366: adc_6366, 6365: adc_6365, 6364: adc_6364,
          6363: adc_6363, 6362: adc_6362, 6361: adc_6361, 6360: adc_6360, 6359: adc_6359,
          6358: adc_6358, 6357: adc_6357, 6356: adc_6356, 6355: adc_6355, 6354: adc_6354,
          6353: adc_6353, 6352: adc_6352, 6351: adc_6351, 6350: adc_6350, 6349: adc_6349,
          6348: adc_6348, 6347: adc_6347, 6346: adc_6346, 6345: adc_6345, 6344: adc_6344,
          6343: adc_6343, 6342: adc_6342, 6341: adc_6341, 6340: adc_6340, 6339: adc_6339,
          6338: adc_6338, 6337: adc_6337, 6336: adc_6336, 6335: adc_6335, 6334: adc_6334,
          6333: adc_6333, 6332: adc_6332, 6331: adc_6331, 6330: adc_6330, 6329: adc_6329,
          6328: adc_6328, 6327: adc_6327, 6326: adc_6326, 6325: adc_6325, 6324: adc_6324,
          6323: adc_6323, 6322: adc_6322, 6321: adc_6321, 6320: adc_6320, 6319: adc_6319,
          6318: adc_6318, 6317: adc_6317, 6316: adc_6316, 6315: adc_6315, 6314: adc_6314,
          6313: adc_6313, 6312: adc_6312, 6310: adc_6310, 6309: adc_6309}

sample_no = []
adc = []
for level, samples in levels.items():
    sample_no += samples
    adc += [level] * len(samples)

mu = 6337.75
sigma = 7.75

fig, ax = plt.subplots(figsize=(10, 10), dpi=100)
ax.plot(sample_no, adc, 'k.', mew=1.15, label='Samples\n$\\mu$ = %.2f, $\\sigma$ = %.2f' % (mu, sigma))
ax.set_xlabel('Sample #')
ax.set_ylabel('ADC Counts')
ax.set_title('Run 667, channel051, Pedestal')
ax.set_xlim(-480, 10368)
ax.set_ylim(6305.9, 6374.1)
ax.ticklabel_format(useOffset=False, style='plain', axis='y')
ax.grid(True)
ax.legend(loc='upper right')
fig.subplots_adjust(left=0.081, right=0.985, top=0.965, bottom=0.058)
fig.savefig('out.png')
